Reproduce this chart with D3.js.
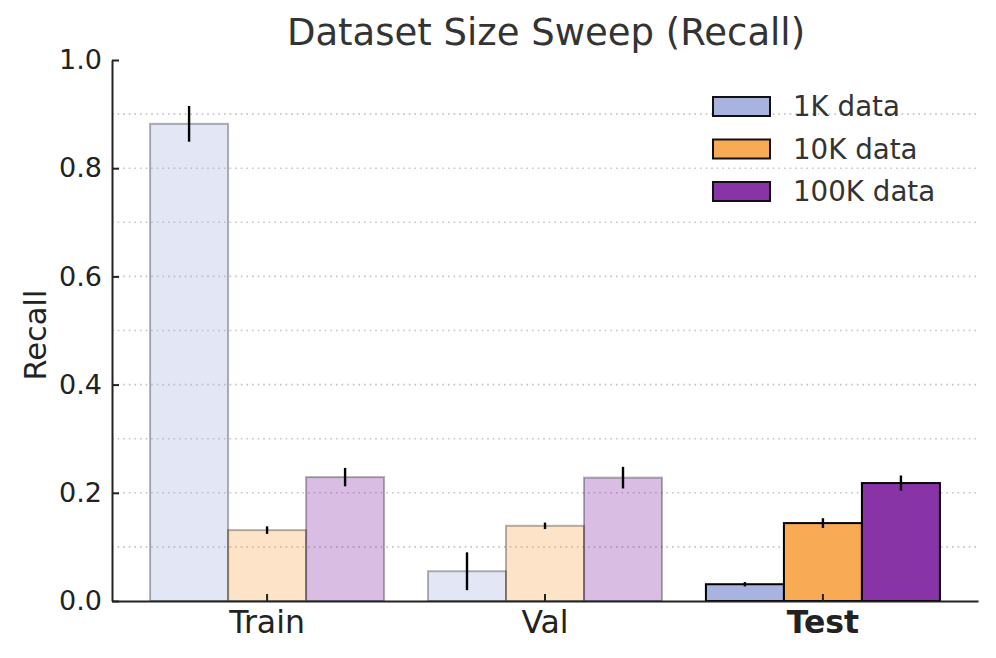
<!DOCTYPE html>
<html>
<head>
<meta charset="utf-8">
<script src="https://cdn.jsdelivr.net/npm/d3@7"></script>
<style>
body { margin: 0; background: #fff; }
svg text { font-family: "DejaVu Sans", sans-serif; }
</style>
</head>
<body>
<script>
// data
let splits = ["Train", "Val", "Test"];
let sizes = ["1K data", "10K data", "100K data"];
let colors = ["#a8b3e0", "#f9aa55", "#8833a6"];

let recall1K   = [0.882, 0.055, 0.031];
let recall10K  = [0.131, 0.139, 0.144];
let recall100K = [0.229, 0.228, 0.218];

let err1K   = [0.033, 0.035, 0.004];
let err10K  = [0.007, 0.006, 0.009];
let err100K = [0.017, 0.020, 0.014];

let yTicks = [0, 0.2, 0.4, 0.6, 0.8, 1.0];
let gridTicks = [0.1, 0.2, 0.3, 0.4, 0.5, 0.6, 0.7, 0.8, 0.9];

let w = 996, h = 658;
let padL = 112, padR = 978, padT = 60, padB = 601;

let values = [recall1K, recall10K, recall100K];
let errs = [err1K, err10K, err100K];

let rows = [];
splits.forEach((s, i) => {
  sizes.forEach((z, j) => {
    rows.push({split: s, size: z, j: j, v: values[j][i], e: errs[j][i], test: s === "Test"});
  });
});

let svg = d3.select("body").append("svg")
  .attr("width", w).attr("height", h);

let x0 = d3.scaleBand().domain(splits).range([padL, padR]).paddingInner(0.158).paddingOuter(0.137);
let x1 = d3.scaleBand().domain(sizes).range([0, x0.bandwidth()]);
let y = d3.scaleLinear().domain([0, 1]).range([padB, padT]);

// dotted grid
svg.append("g").selectAll("line")
  .data(gridTicks).enter().append("line")
  .attr("x1", padL).attr("x2", padR)
  .attr("y1", d => y(d)).attr("y2", d => y(d))
  .attr("stroke", "#c4c4c4").attr("stroke-width", 1.6)
  .attr("stroke-dasharray", "1.6,4");

// bars
svg.append("g").selectAll("rect")
  .data(rows).enter().append("rect")
  .attr("x", d => x0(d.split) + x1(d.size))
  .attr("y", d => y(d.v))
  .attr("width", x1.bandwidth())
  .attr("height", d => y(0) - y(d.v))
  .attr("fill", d => colors[d.j])
  .attr("fill-opacity", d => d.test ? 1 : 0.32)
  .attr("stroke", "#000")
  .attr("stroke-opacity", d => d.test ? 1 : 0.3)
  .attr("stroke-width", 2);

// error bars
svg.append("g").selectAll("line")
  .data(rows).enter().append("line")
  .attr("x1", d => x0(d.split) + x1(d.size) + x1.bandwidth() / 2)
  .attr("x2", d => x0(d.split) + x1(d.size) + x1.bandwidth() / 2)
  .attr("y1", d => y(d.v - d.e))
  .attr("y2", d => y(d.v + d.e))
  .attr("stroke", "#000").attr("stroke-width", 2.4);

// axes (ticks pointing inside)
let yAxis = d3.axisLeft(y).tickValues(yTicks).tickFormat(d3.format(".1f"))
  .tickSizeInner(-7).tickSizeOuter(0).tickPadding(10);
let gy = svg.append("g").attr("transform", "translate(" + padL + ",0)").call(yAxis);
gy.select(".domain").attr("stroke", "#222").attr("stroke-width", 2);
gy.selectAll(".tick line").attr("stroke", "#222").attr("stroke-width", 2);
gy.selectAll("text").attr("font-size", 27).attr("fill", "#222");

let xAxis = d3.axisBottom(x0).tickSizeInner(-7).tickSizeOuter(0).tickPadding(10);
let gx = svg.append("g").attr("transform", "translate(0," + padB + ")").call(xAxis);
gx.select(".domain").attr("stroke", "#222").attr("stroke-width", 2);
gx.selectAll(".tick line").attr("stroke", "#222").attr("stroke-width", 2);
gx.selectAll("text").attr("font-size", 31.5).attr("fill", "#222")
  .attr("font-weight", d => d === "Test" ? "bold" : "normal");

// title + y label
svg.append("text").attr("x", 546).attr("y", 45)
  .attr("text-anchor", "middle").attr("font-size", 37).attr("fill", "#333")
  .text("Dataset Size Sweep (Recall)");

svg.append("text")
  .attr("transform", "translate(46," + 335 + ") rotate(-90)")
  .attr("text-anchor", "middle").attr("font-size", 30.5).attr("fill", "#222")
  .text("Recall");

// legend
let lg = svg.append("g").selectAll("g")
  .data(sizes).enter().append("g")
  .attr("transform", (d, i) => "translate(713," + (97 + i * 42.5) + ")");
lg.append("rect").attr("width", 57).attr("height", 19)
  .attr("fill", (d, i) => colors[i]).attr("stroke", "#111").attr("stroke-width", 2);
lg.append("text").attr("x", 80).attr("y", 19)
  .attr("font-size", 27.7).attr("fill", "#333").text(d => d);
</script>
</body>
</html>
